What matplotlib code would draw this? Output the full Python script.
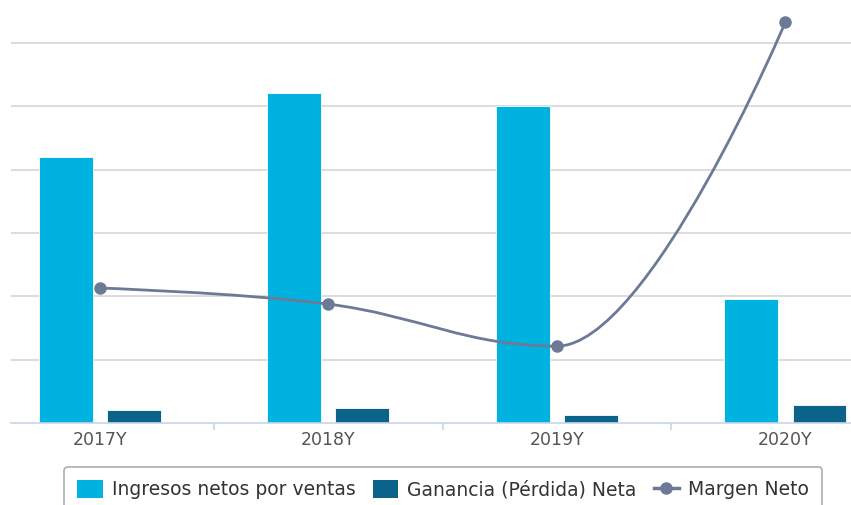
# Ingresos / ganancia / margen chart, highcharts style
import numpy as np
import matplotlib
matplotlib.use("Agg")
import matplotlib.pyplot as plt
from matplotlib.path import Path
from matplotlib.patches import PathPatch, Patch
from matplotlib.lines import Line2D

years = ["2017Y", "2018Y", "2019Y", "2020Y"]
ingresos = [420, 521, 500, 196]       # gridline step = 100
ganancia = [20.5, 23.7, 12.6, 28.4]
margen = [4.88, 4.30, 2.78, 14.5]     # secondary axis, %

c_ing = "#00b2df"
c_gan = "#0b6389"
c_mar = "#6c7a98"


def spline_path(xs, ys, smoothing=1.5):
    # highcharts-like spline: cubic bezier control points from neighbours
    n = len(xs)
    denom = smoothing + 1
    lc = [(x, y) for x, y in zip(xs, ys)]
    rc = [(x, y) for x, y in zip(xs, ys)]
    for i in range(1, n - 1):
        px, py = xs[i], ys[i]
        lx, ly = xs[i - 1], ys[i - 1]
        nx, ny = xs[i + 1], ys[i + 1]
        lcx = (smoothing * px + lx) / denom
        lcy = (smoothing * py + ly) / denom
        rcx = (smoothing * px + nx) / denom
        rcy = (smoothing * py + ny) / denom
        corr = 0
        if rcx != lcx:
            corr = (rcy - lcy) * (rcx - px) / (rcx - lcx) + py - rcy
        lcy += corr
        rcy += corr
        if lcy > ly and lcy > py:
            lcy = max(ly, py)
            rcy = 2 * py - lcy
        elif lcy < ly and lcy < py:
            lcy = min(ly, py)
            rcy = 2 * py - lcy
        if rcy > ny and rcy > py:
            rcy = max(ny, py)
            lcy = 2 * py - rcy
        elif rcy < ny and rcy < py:
            rcy = min(ny, py)
            lcy = 2 * py - rcy
        lc[i] = (lcx, lcy)
        rc[i] = (rcx, rcy)
    verts = [(xs[0], ys[0])]
    codes = [Path.MOVETO]
    for i in range(1, n):
        verts += [rc[i - 1], lc[i], (xs[i], ys[i])]
        codes += [Path.CURVE4] * 3
    return Path(verts, codes)


fig = plt.figure(figsize=(8.51, 5.05), dpi=100)
ax = fig.add_axes([11 / 851, 82 / 505, 840 / 851, 423 / 505])
x = np.arange(len(years))
w = 0.236
ax.bar(x - 0.149, ingresos, w, color=c_ing, edgecolor="white", linewidth=0.6, zorder=2)
ax.bar(x + 0.149, ganancia, w, color=c_gan, edgecolor="white", linewidth=0.6, zorder=2)

ax2 = ax.twinx()
ax2.set_ylim(0, 15.3)
ax2.axis("off")
ax2.add_patch(PathPatch(spline_path(list(x), margen), facecolor="none",
                        edgecolor=c_mar, linewidth=2, zorder=3))
ax2.plot(x, margen, "o", color=c_mar, markersize=8, zorder=4)

ax.set_xlim(-0.389, 3.287)
ax.set_ylim(0, 668)
ax.set_yticks([100, 200, 300, 400, 500, 600])
ax.yaxis.grid(True, color="#d6d6d6", linewidth=1.2, zorder=0)
ax.set_axisbelow(True)
ax.tick_params(axis="y", left=False, right=False, labelleft=False, labelright=False)
for s in ["top", "left", "right"]:
    ax.spines[s].set_visible(False)
ax.spines["bottom"].set_color("#c8d4e6")
ax.spines["bottom"].set_linewidth(1.2)
ax.set_xticks(x)
ax.set_xticklabels(years, fontsize=12.5, color="#555555")
ax.tick_params(axis="x", length=0, pad=6)
ax.set_xticks([0.5, 1.5, 2.5], minor=True)
ax.tick_params(axis="x", which="minor", length=5, width=1.2, color="#c8d4e6")

handles = [Patch(facecolor=c_ing), Patch(facecolor=c_gan),
           Line2D([0], [0], color=c_mar, lw=2.5, marker="o", markersize=8)]
labels = ["Ingresos netos por ventas", "Ganancia (Pérdida) Neta", "Margen Neto"]
leg = fig.legend(handles, labels, loc="upper center", bbox_to_anchor=(0.521, 1 - 467 / 505),
                 ncol=3, fontsize=13.5, frameon=True, fancybox=True,
                 handlelength=1.35, handleheight=1.05, handletextpad=0.5,
                 columnspacing=0.9, borderpad=0.7, borderaxespad=0,
                 labelcolor="#333333")
leg.get_frame().set_edgecolor("#999999")
leg.get_frame().set_linewidth(1.2)

fig.savefig("out.png", dpi=100)
